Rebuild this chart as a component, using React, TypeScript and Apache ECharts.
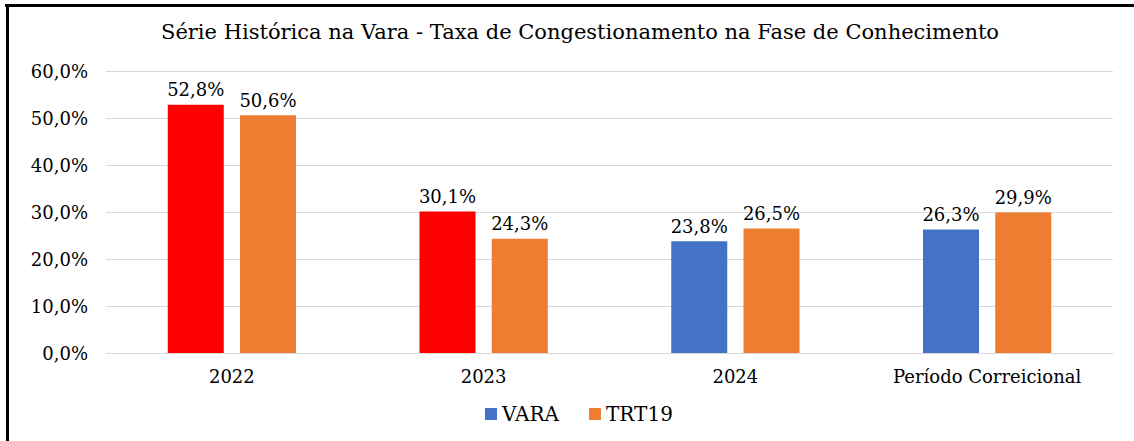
import React, { useEffect, useRef } from "react";
import * as echarts from "echarts";

const categories = ["2022", "2023", "2024", "Período Correicional"];
const varaValues = [52.8, 30.1, 23.8, 26.3];
const varaColors = ["#FF0000", "#FF0000", "#4472C4", "#4472C4"];
const trtValues = [50.6, 24.3, 26.5, 29.9];
const titleText = "Série Histórica na Vara - Taxa de Congestionamento na Fase de Conhecimento";

const FONT = "DejaVu Serif";
const fmt = (v: number) => v.toFixed(1).replace(".", ",") + "%";

export default function App() {
  const ref = useRef<HTMLDivElement>(null);
  useEffect(() => {
    if (!ref.current) return;
    const chart = echarts.init(ref.current, null, { renderer: "svg" });
    const lbl = {
      show: true,
      position: "top",
      distance: 6,
      fontFamily: FONT,
      fontSize: 18,
      color: "#000",
      formatter: (p: any) => fmt(p.value),
    };
    const legendText = { fontFamily: FONT, fontSize: 20, color: "#000" };
    chart.setOption({
      animation: false,
      backgroundColor: "#fff",
      textStyle: { fontFamily: FONT },
      title: {
        text: titleText,
        left: 575,
        textAlign: "center",
        top: 16,
        textStyle: { fontFamily: FONT, fontSize: 21, fontWeight: "normal", color: "#000" },
      },
      legend: {
        bottom: 12,
        left: 480,
        itemWidth: 12,
        itemHeight: 12,
        itemGap: 30,
        icon: "rect",
        textStyle: legendText,
        data: [
          { name: "VARA", itemStyle: { color: "#4472C4" } },
          { name: "TRT19", itemStyle: { color: "#ED7D31" } },
        ],
      },
      grid: { left: 106, right: 21, top: 71, bottom: 88, containLabel: false },
      xAxis: {
        type: "category",
        data: categories,
        axisLine: { show: true, lineStyle: { color: "#D9D9D9" } },
        axisTick: { show: false },
        axisLabel: { fontFamily: FONT, fontSize: 18, color: "#000", margin: 14 },
      },
      yAxis: {
        type: "value",
        min: 0,
        max: 60,
        interval: 10,
        axisLine: { show: false },
        axisTick: { show: false },
        splitLine: { lineStyle: { color: "#D9D9D9" } },
        axisLabel: { fontFamily: FONT, fontSize: 18, color: "#000", margin: 18, formatter: (v: number) => fmt(v) },
      },
      series: [
        {
          name: "VARA",
          type: "bar",
          barWidth: 56,
          barGap: "29%",
          itemStyle: { color: "#4472C4" },
          data: varaValues.map((v, i) => ({ value: v, itemStyle: { color: varaColors[i] } })),
          label: lbl,
        },
        {
          name: "TRT19",
          type: "bar",
          barWidth: 56,
          itemStyle: { color: "#ED7D31" },
          data: trtValues,
          label: lbl,
        },
      ],
      graphic: [
        { type: "line", shape: { x1: 5, y1: 5.5, x2: 1134, y2: 5.5 }, style: { stroke: "#000", lineWidth: 3 } },
        { type: "line", shape: { x1: 7.5, y1: 4, x2: 7.5, y2: 441 }, style: { stroke: "#000", lineWidth: 3 } },
      ],
    });
    return () => chart.dispose();
  }, []);
  return (
    <div
      ref={ref}
      style={{ position: "fixed", left: 0, top: 0, width: 1134, height: 441, background: "#fff" }}
    />
  );
}
